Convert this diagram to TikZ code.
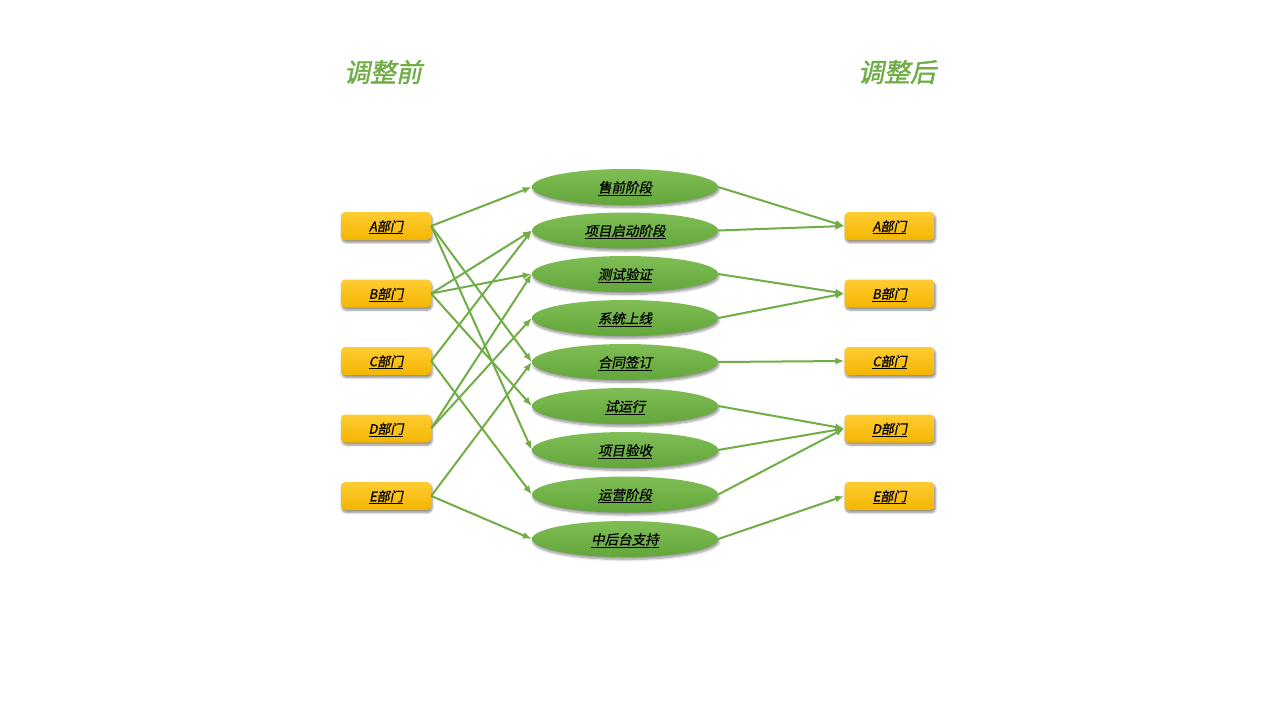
\documentclass[tikz,border=0pt]{standalone}
\usepackage{fontspec}
\setmainfont{Noto Sans CJK SC}[FakeSlant=0.2,FakeBold=0.8]
\newfontfamily\titlefont{Noto Sans CJK SC}[FakeSlant=0.2,FakeBold=1.5]
\usetikzlibrary{shapes.geometric,shadows.blur,arrows.meta}
\definecolor{leaf}{HTML}{70AD47}
\definecolor{leaftop}{HTML}{80BE55}
\definecolor{leafbot}{HTML}{62A63A}
\definecolor{goldtop}{HTML}{FFCC33}
\definecolor{goldbot}{HTML}{F3B500}
\tikzset{
  dept/.style={rounded corners=4pt, minimum width=90pt, minimum height=28pt,
    inner sep=0pt, top color=goldtop, bottom color=goldbot,
    text height=12.5pt, text depth=2pt,
    blur shadow={shadow blur steps=6, shadow xshift=1pt, shadow yshift=-2.5pt, shadow opacity=45},
    font=\fontsize{13}{15}\selectfont},
  phase/.style={ellipse, minimum width=186pt, minimum height=36pt, inner sep=0pt,
    top color=leaftop, bottom color=leafbot,
    text height=13pt, text depth=2pt,
    blur shadow={shadow blur steps=6, shadow xshift=1pt, shadow yshift=-2.5pt, shadow opacity=40},
    font=\fontsize{13.5}{15}\selectfont},
  heading/.style={text=leaf, font=\titlefont\fontsize{26}{30}\selectfont},
  flow/.style={draw=leaf, line width=2pt, -{Latex[length=9pt,width=7pt]}}
}
\begin{document}
\begin{tikzpicture}[x=1pt,y=-1pt]
      \useasboundingbox (0,0) rectangle (1280,720);
      \node[heading] (before) at (383,72) {调整前};
      \node[heading] (after) at (897,72) {调整后};
      % departments before
      \node[dept] (qA) at (386,226) {\underline{A部门}};
      \node[dept] (qB) at (386,293.5) {\underline{B部门}};
      \node[dept] (qC) at (386,361) {\underline{C部门}};
      \node[dept] (qD) at (386,428.5) {\underline{D部门}};
      \node[dept] (qE) at (386,496) {\underline{E部门}};
      % phases
      \node[phase] (p1) at (625,187) {\underline{售前阶段}};
      \node[phase] (p2) at (625,230.5) {\underline{项目启动阶段}};
      \node[phase] (p3) at (625,274) {\underline{测试验证}};
      \node[phase] (p4) at (625,318) {\underline{系统上线}};
      \node[phase] (p5) at (625,362) {\underline{合同签订}};
      \node[phase] (p6) at (625,406) {\underline{试运行}};
      \node[phase] (p7) at (625,450) {\underline{项目验收}};
      \node[phase] (p8) at (625,494.5) {\underline{运营阶段}};
      \node[phase] (p9) at (625,539) {\underline{中后台支持}};
      % departments after
      \node[dept] (hA) at (889.5,226) {\underline{A部门}};
      \node[dept] (hB) at (889.5,293.5) {\underline{B部门}};
      \node[dept] (hC) at (889.5,361) {\underline{C部门}};
      \node[dept] (hD) at (889.5,428.5) {\underline{D部门}};
      \node[dept] (hE) at (889.5,496) {\underline{E部门}};
      \begin{scope}[flow]
        \draw (qA.east) to (p1.west);
        \draw (qA.east) to (p5.west);
        \draw (qA.east) to (p7.west);
        \draw (qB.east) to (p2.west);
        \draw (qB.east) to (p3.west);
        \draw (qB.east) to (p6.west);
        \draw (qC.east) to (p2.west);
        \draw (qC.east) to (p8.west);
        \draw (qD.east) to (p3.west);
        \draw (qD.east) to (p4.west);
        \draw (qE.east) to (p5.west);
        \draw (qE.east) to (p9.west);
        \draw (p1.east) to (hA.west);
        \draw (p2.east) to (hA.west);
        \draw (p3.east) to (hB.west);
        \draw (p4.east) to (hB.west);
        \draw (p5.east) to (hC.west);
        \draw (p6.east) to (hD.west);
        \draw (p7.east) to (hD.west);
        \draw (p8.east) to (hD.west);
        \draw (p9.east) to (hE.west);
      \end{scope}
    \end{tikzpicture}
\end{document}
